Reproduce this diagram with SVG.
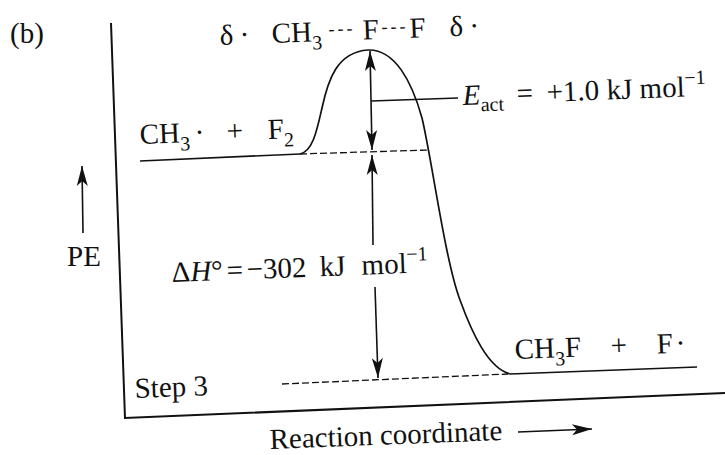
<svg xmlns="http://www.w3.org/2000/svg" width="725" height="455" viewBox="0 0 725 455" font-family="Liberation Serif, DejaVu Serif, serif">
<defs>
<style>
text{font-family:'Liberation Serif','DejaVu Serif',serif;font-size:29px;fill:#111}
.sub{font-size:20px}
.it{font-style:italic}
.dash{font-size:18px;letter-spacing:3px}
.ln{stroke:#111;fill:none;stroke-width:1.7}
.ax{stroke:#111;fill:none;stroke-width:2}
.dsh{stroke:#111;fill:none;stroke-width:1.3;stroke-dasharray:7 3}
.arr{stroke:#111;fill:none;stroke-width:1.6;marker-end:url(#ah)}
</style>
<marker id="ah" viewBox="-21 -7 22 14" refX="0" refY="0" markerWidth="22" markerHeight="14" markerUnits="userSpaceOnUse" orient="auto">
<path d="M0,0 L-20,-5.5 L-15,0 L-20,5.5 Z" fill="#111"/>
</marker>
</defs>
<rect width="725" height="455" fill="#fff"/>

<g id="axes">
<path class="ax" d="M111,23 L125,418 L725,393"/>
</g>

<g id="profile">
<path class="ln" d="M140,161 L300,154"/>
<path class="ln" d="M300,154 C313,151 317,130 322,108 C328,80 337,52 368,50 C395,49 412,82 422,118 C432,160 445,260 460,300 C472,333 488,368 510,374"/>
<path class="ln" d="M510,374 L697,367"/>
<path class="dsh" d="M300,154 L428,150"/>
<path class="dsh" d="M282,384 L508,374"/>
</g>

<g id="connectors">
<path class="arr" d="M83,233 L82,166"/>
<path class="arr" d="M371,100 L370,51"/>
<path class="arr" d="M371,100 L372,150"/>
<path class="ln" d="M371,101 L458,98"/>
<path class="arr" d="M373,245 L372,155"/>
<path class="arr" d="M375,287 L378,378"/>
<path class="arr" d="M518,432 L592,429"/>
</g>

<g id="label-b">
<text x="10" y="43">(b)</text>
</g>

<g id="label-ts" transform="rotate(-2.2 222 45)">
<text x="220" y="45">δ</text><text x="240" y="45">·</text>
<text x="272" y="45">CH<tspan class="sub" dy="8">3</tspan></text>
<text class="dash" x="329" y="39">---</text>
<text x="363" y="45">F</text>
<text class="dash" x="382" y="39">---</text>
<text x="410" y="45">F</text>
<text x="450" y="45">δ</text><text x="470" y="45">·</text>
</g>

<g id="label-reactants" transform="rotate(-2.2 140 144)">
<text x="140" y="144">CH<tspan class="sub" dy="8">3</tspan></text>
<text x="195" y="144">·</text>
<text x="227" y="144">+</text>
<text x="268" y="144">F<tspan class="sub" dy="8">2</tspan></text>
</g>

<g id="label-products" transform="rotate(-2.2 515 359)">
<text x="515" y="359">CH<tspan class="sub" dy="8">3</tspan><tspan dy="-8">F</tspan></text>
<text x="611" y="359">+</text>
<text x="657" y="359">F</text>
<text x="676" y="359">·</text>
</g>

<g id="label-eact" transform="rotate(-2.2 463 105)">
<text x="463" y="105"><tspan class="it">E</tspan><tspan class="sub" dy="7">act</tspan></text>
<text x="517" y="105">=</text>
<text x="547" y="105">+1.0</text>
<text x="607" y="105">kJ</text>
<text x="640" y="105">mol<tspan class="sub" dy="-12">−1</tspan></text>
</g>

<g id="label-dh" transform="rotate(-2.2 172 282)">
<text x="172" y="282">Δ<tspan class="it">H</tspan>°</text>
<text x="227" y="282">=</text>
<text x="247" y="282">−302</text>
<text x="320" y="282">kJ</text>
<text x="362" y="282">mol<tspan class="sub" dy="-12">−1</tspan></text>
</g>

<g id="label-pe">
<text x="67" y="266">PE</text>
</g>

<g id="label-step">
<text x="135" y="398" transform="rotate(-2.2 135 398)">Step 3</text>
</g>

<g id="label-axis">
<text x="270" y="449" transform="rotate(-2.2 270 449)">Reaction coordinate</text>
</g>
</svg>
